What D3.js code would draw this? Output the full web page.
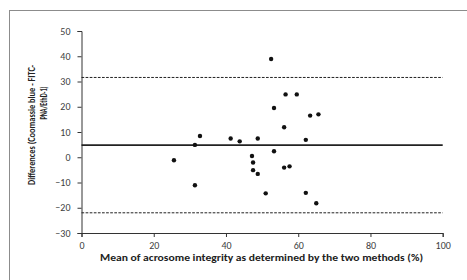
<!DOCTYPE html>
<html><head><meta charset="utf-8">
<script src="https://cdn.jsdelivr.net/npm/d3@7"></script>
<style>
body{margin:0;background:#fff;}
svg{display:block;font-family:Carlito,Lato,"Open Sans",sans-serif;}
</style></head>
<body><svg id="c" width="467" height="280"></svg>
<script>
const meanX = [25.6,31.4,31.4,32.8,41.3,43.8,47.2,47.5,47.5,48.8,48.8,51.0,52.5,53.3,53.3,56.1,56.5,56.1,57.6,59.6,62.1,62.1,63.3,65.6,65.0];
const diffY = [-1.2,-11.1,4.9,8.4,7.4,6.3,0.5,-2.1,-5.1,7.4,-6.6,-14.3,38.9,19.5,2.4,11.9,24.9,-4.1,-3.6,24.9,6.9,-14.1,16.5,17.0,-18.2];
const meanDiff = 4.8;
const upperLoA = 31.6;
const lowerLoA = -22.0;
const xTicks = [0,20,40,60,80,100];
const yTicks = [-30,-20,-10,0,10,20,30,40,50];
const xTitle = "Mean of acrosome integrity as determined by the two methods (%)";
const yTitle = ["Differences (Coomassie blue - FITC-", "PNA/EthD-1)"];

const svg = d3.select("#c");
svg.append("rect").attr("x",9.5).attr("y",10.5).attr("width",470).attr("height",280)
  .attr("fill","none").attr("stroke","#8c8c8c").attr("stroke-width",1);

const x = d3.scaleLinear().domain([0,100]).range([81.5,442.7]);
const y = d3.scaleLinear().domain([-30,50]).range([233,31]);

const gx = svg.append("g").attr("transform",`translate(0,${y(-30)})`)
  .call(d3.axisBottom(x).tickValues(xTicks).tickSize(4).tickPadding(5));
const gy = svg.append("g").attr("transform",`translate(${x(0)},0)`)
  .call(d3.axisLeft(y).tickValues(yTicks).tickSize(4).tickPadding(7));
[gx,gy].forEach(g=>{
  g.select(".domain").attr("stroke","#333");
  g.selectAll(".tick line").attr("stroke","#333");
  g.selectAll("text").attr("fill","#404040").style("font-size","10px").style("font-family","Carlito,Lato,sans-serif");
});

svg.append("line").attr("x1",x(0)).attr("x2",x(100)).attr("y1",y(meanDiff)).attr("y2",y(meanDiff))
  .attr("stroke","#222").attr("stroke-width",1.8);
[upperLoA,lowerLoA].forEach(v=>{
  svg.append("line").attr("x1",x(0)).attr("x2",x(100)).attr("y1",y(v)).attr("y2",y(v))
    .attr("stroke","#222").attr("stroke-width",1).attr("stroke-dasharray","2.7,1.4");
});

svg.append("g").selectAll("circle").data(meanX.map((m,i)=>[m,diffY[i]])).join("circle")
  .attr("cx",d=>x(d[0])).attr("cy",d=>y(d[1])).attr("r",2.2).attr("fill","#111");

svg.append("text").attr("x",261.5).attr("y",261).attr("text-anchor","middle")
  .attr("font-weight","bold").attr("font-size","9.5px").attr("fill","#222")
  .attr("textLength",323).attr("lengthAdjust","spacingAndGlyphs").text(xTitle);

svg.append("text").attr("transform","translate(34.5,125) rotate(-90)").attr("text-anchor","middle")
  .attr("font-weight","bold").attr("font-size","9.5px").attr("fill","#222")
  .attr("textLength",120).attr("lengthAdjust","spacingAndGlyphs").text(yTitle[0]);
svg.append("text").attr("transform","translate(46.5,103) rotate(-90)").attr("text-anchor","middle")
  .attr("font-weight","bold").attr("font-size","9.5px").attr("fill","#222")
  .attr("textLength",33).attr("lengthAdjust","spacingAndGlyphs").text(yTitle[1]);
</script></body></html>
